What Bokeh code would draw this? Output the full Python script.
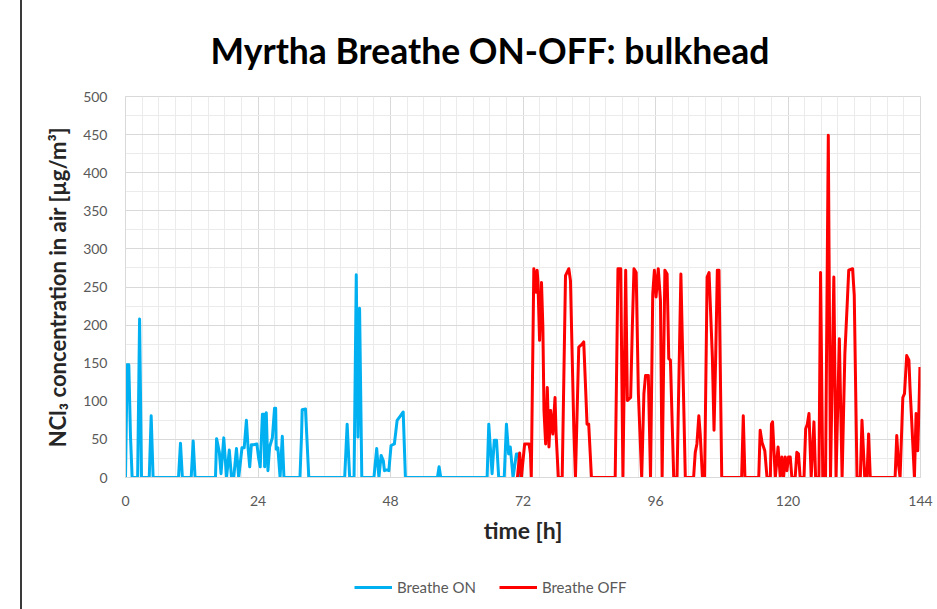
from bokeh.plotting import figure
from bokeh.layouts import column
from bokeh.models import Range1d, SingleIntervalTicker, Legend, LegendItem
from bokeh.embed import file_html
from bokeh.resources import INLINE

# Breathe ON series (time [h], NCl3 [ug/m3])
on_t = [0, 0.3, 0.6, 0.9, 1.2, 2.2, 2.55, 2.9, 4.3, 4.65, 5.0, 9.6, 9.96, 10.3, 11.9, 12.26, 12.6,
        16.3, 16.5, 17.0, 17.3, 17.8, 18.3, 18.8, 19.2, 19.6, 20.1, 20.5, 21.1, 21.5, 21.9, 22.2, 22.5,
        22.8, 23.2, 23.8, 24.1, 24.4, 24.8, 25.1, 25.2, 25.5, 25.8, 26.1, 26.6, 27.0, 27.2, 27.3, 27.6,
        28.0, 28.4, 28.7, 31.6, 31.9, 32.0, 32.6, 33.2,
        39.7, 40.15, 40.6, 41.4, 41.8, 42.1, 42.4, 42.8,
        45.0, 45.5, 45.9, 46.3, 46.7, 46.9, 47.3, 47.7, 48.1, 48.7, 49.2, 49.8, 50.3, 50.7,
        56.5, 56.8, 57.1, 65.5, 65.8, 66.4, 66.8, 67.2, 67.6,
        68.6, 69.0, 69.4, 69.7, 70.2, 70.8, 71.2, 71.5]
on_v = [0, 148, 148, 55, 0, 0, 208, 0, 0, 81, 0, 0, 45, 0, 0, 48, 0,
        0, 51, 33, 5, 52, 0, 36, 0, 0, 38, 0, 39, 39, 75, 39, 14,
        43, 43, 44, 26, 14, 83, 83, 14, 85, 9, 40, 52, 91, 91, 37, 39,
        0, 54, 0, 0, 58, 89, 90, 0,
        0, 70, 0, 0, 266, 53, 222, 0,
        0, 38, 0, 29, 22, 9, 10, 9, 42, 44, 75, 81, 86, 0,
        0, 14, 0, 0, 70, 5, 49, 49, 0,
        0, 70, 31, 40, 0, 31, 31, 0]

# Breathe OFF series
off_t = [71.0, 71.4, 71.7, 72.3, 73.1, 73.35, 73.5, 73.96, 74.4, 74.56, 74.7, 75.0, 75.35, 75.6, 75.8,
         76.1, 76.4, 76.7, 77.0, 77.4, 77.8, 78.0, 78.4, 79.1, 79.7, 80.3, 80.6, 81.2, 81.5, 82.1, 82.7,
         83.0, 83.6, 83.9, 84.4, 88.7, 89.2, 89.7, 90.1, 90.6, 90.9, 91.5, 91.8, 92.1, 92.5, 92.9, 93.5,
         93.9, 94.2, 94.7, 95.1, 95.5, 95.8, 96.1, 96.5, 96.9, 97.2, 97.7, 98.1, 98.4, 98.7, 99.3, 99.9,
         100.6, 101.4, 102.9, 103.2, 103.5, 103.85, 104.1, 104.5, 104.9, 105.35, 105.7, 106.3, 106.6,
         106.9, 107.2, 107.5, 108.0, 111.6, 111.9, 112.2, 114.7, 114.96, 115.3, 115.8, 116.2, 116.8,
         117.0, 117.2, 117.7, 118.2, 118.6, 118.9, 119.2, 119.5, 119.8, 120.1, 120.4, 120.7, 121.3,
         121.6, 121.9, 122.2, 122.9, 123.2, 123.5, 123.8, 124.2, 124.7, 125.0, 125.6, 125.9, 126.3,
         126.8, 127.3, 127.7, 128.3, 128.7, 129.3, 129.8, 130.3, 130.7, 131.0, 131.7, 132.0, 132.5,
         133.1, 133.4, 133.9, 134.3, 134.6, 134.9, 139.4, 139.7, 140.0, 140.3, 140.8, 141.1, 141.5,
         141.9, 142.1, 142.4, 142.9, 143.2, 143.5, 143.7, 143.9]
off_v = [0, 32, 0, 44, 44, 31, 0, 274, 243, 272, 258, 180, 256, 197, 88,
         44, 118, 40, 88, 57, 105, 57, 0, 0, 265, 274, 258, 66, 0, 171, 175,
         178, 70, 70, 0, 0, 274, 274, 0, 272, 101, 105, 197, 274, 269, 110, 0,
         110, 134, 134, 0, 241, 272, 237, 274, 232, 0, 272, 267, 156, 154, 0, 0,
         267, 0, 0, 33, 44, 81, 57, 0, 0, 263, 269, 158, 62,
         158, 272, 272, 0, 0, 81, 0, 0, 62, 46, 35, 0, 0,
         70, 73, 0, 40, 0, 27, 0, 27, 9, 27, 27, 0, 0,
         33, 31, 0, 0, 64, 70, 84, 0, 73, 0, 0, 269, 0,
         0, 449, 0, 263, 0, 182, 0, 162, 224, 272, 274, 239, 0,
         0, 75, 0, 0, 57, 0, 0, 55, 18, 0, 105, 110, 160,
         154, 118, 75, 0, 84, 35, 84, 145]

SERIES_NAMES = ["Breathe ON", "Breathe OFF"]
SERIES_COLORS = ["#00B0F0", "#FF0000"]

TITLE = "Myrtha Breathe ON-OFF: bulkhead"
X_LABEL = "time [h]"
Y_LABEL = "NCl\u2083 concentration in air [\u00b5g/m\u00b3]"

FONT = "Lato"
LW = 3

p = figure(width=915, height=560, output_backend="svg", toolbar_location=None,
           x_range=Range1d(0, 144), y_range=Range1d(0, 500),
           min_border_left=103, min_border_right=17, min_border_top=96, min_border_bottom=83)

r_on = p.line(on_t, on_v, line_color=SERIES_COLORS[0], line_width=LW, line_join="round")
r_off = p.line(off_t, off_v, line_color=SERIES_COLORS[1], line_width=LW, line_join="round")

p.xaxis.ticker = SingleIntervalTicker(interval=24, num_minor_ticks=8)
p.yaxis.ticker = SingleIntervalTicker(interval=50, num_minor_ticks=2)

for ax in (p.xaxis, p.yaxis):
    ax.axis_line_color = "#d9d9d9"
    ax.major_tick_line_color = None
    ax.minor_tick_line_color = None
    ax.major_label_text_font = FONT
    ax.major_label_text_font_size = "14px"
    ax.major_label_text_color = "#595959"
    ax.axis_label_text_font = FONT
    ax.axis_label_text_font_style = "bold"
    ax.axis_label_text_color = "#262626"

p.xaxis.axis_label = X_LABEL
p.yaxis.axis_label = Y_LABEL
p.xaxis.axis_label_text_font_size = "23px"
p.yaxis.axis_label_text_font_size = "22px"
p.xaxis.major_label_standoff = 12
p.yaxis.major_label_standoff = 12
p.xaxis.axis_label_standoff = 7
p.yaxis.axis_label_standoff = 9

for g in (p.xgrid, p.ygrid):
    g.grid_line_color = "#d9d9d9"
    g.grid_line_width = 1
    g.minor_grid_line_color = "#ebebeb"
    g.minor_grid_line_width = 1

p.outline_line_color = "#d9d9d9"
p.background_fill_color = "white"
p.border_fill_color = "white"

p.title.text = TITLE
p.title.text_font = FONT
p.title.text_font_style = "bold"
p.title.text_font_size = "35.5px"
p.title.text_line_height = 0.85
p.title.text_color = "#000000"
p.title.align = "left"
p.title.offset = 85
p.title.standoff = 50

# legend strip below the chart (proxy renderers sit outside the visible range)
q = figure(width=915, height=49, output_backend="svg", toolbar_location=None,
           x_range=Range1d(0, 1), y_range=Range1d(0, 1),
           min_border=0, outline_line_color=None)
q.axis.visible = False
q.grid.visible = False
q.border_fill_color = "white"
q.background_fill_color = "white"
lr = [q.line([5, 6], [5, 6], line_color=c, line_width=LW) for c in SERIES_COLORS]
legend = Legend(items=[LegendItem(label=n, renderers=[r]) for n, r in zip(SERIES_NAMES, lr)],
                orientation="horizontal", location=(229, 12),
                glyph_width=38, glyph_height=20, label_standoff=5, spacing=23,
                padding=0, margin=0, border_line_color=None, background_fill_alpha=0,
                label_text_font=FONT, label_text_font_size="15px", label_text_color="#595959")
q.add_layout(legend)

layout = column(p, q, spacing=0)
layout.styles = {"margin-left": "20px", "border-left": "2px solid #3a3a3a"}

open("out.html", "w").write(file_html(layout, INLINE))
